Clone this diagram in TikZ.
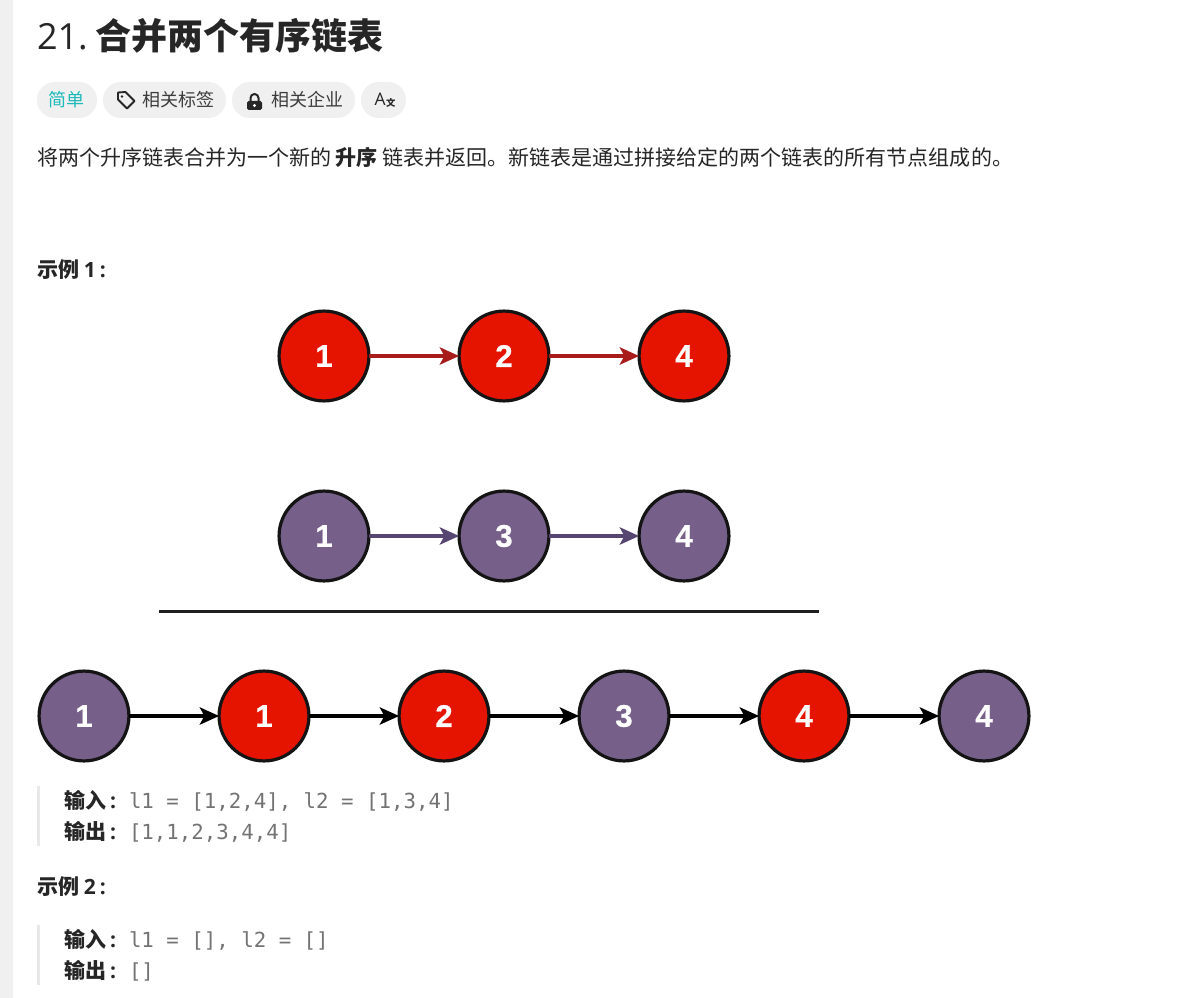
\documentclass[tikz,border=0pt]{standalone}
\usepackage{fontspec}
\setmainfont{Noto Sans CJK SC}
\newfontfamily\lat{Open Sans}
\newfontfamily\numf{Liberation Sans}[BoldFeatures={FakeBold=0.6}]
\newfontfamily\code{DejaVu Sans Mono}
\usetikzlibrary{arrows.meta}
\definecolor{ink}{HTML}{262626}
\definecolor{pill}{HTML}{F0F0F0}
\definecolor{stripe}{HTML}{F0F0F0}
\definecolor{bar}{HTML}{E8E8E8}
\definecolor{teal}{HTML}{1CBABA}
\definecolor{tagtext}{HTML}{3C3C3C}
\definecolor{grey}{HTML}{737373}
\definecolor{redfill}{HTML}{E51400}
\definecolor{purplefill}{HTML}{76608A}
\definecolor{redline}{HTML}{A81C1C}
\definecolor{purpleline}{HTML}{574672}
\tikzset{
  x=0.75pt,y=-0.75pt,
  txt/.style={anchor=base west,inner sep=0pt,outer sep=0pt,text=ink},
  ball/.style={circle,minimum size=67.4pt,inner sep=0pt,outer sep=0pt,draw=black!92,line width=2.4pt,text=white,font=\numf\bfseries\fontsize{23.5}{23.5}\selectfont},
  redball/.style={ball,fill=redfill},
  purpleball/.style={ball,fill=purplefill},
  link/.style={line width=2.3pt,-{Stealth[length=14.5pt,width=13pt,inset=3.5pt]}},
  sepline/.style={line width=2.25pt,draw=black!88},
  pillbox/.style={fill=pill,rounded corners=13.4pt},
  tagsize/.style={font=\fontsize{13.5}{13.5}\selectfont},
  bodysize/.style={font=\fontsize{15.76}{15.76}\selectfont},
  codesize/.style={font=\code\fontsize{15.55}{15.55}\selectfont,text=grey},
}
\newcommand{\clon}{\kern3pt{\lat\bfseries :}}
\begin{document}
\begin{tikzpicture}
\useasboundingbox (0,0) rectangle (1187,998);
\fill[white] (0,0) rectangle (1187,998);
\fill[stripe] (0,0) rectangle (13,998);
% title
\node[txt,font=\fontsize{27}{27}\selectfont] (title) at (37,50) {{\lat 21.}\kern6pt\bfseries 合并两个有序链表};
% pills
\fill[pillbox] (37,82) rectangle (97,118);
\fill[pillbox] (103,82) rectangle (226,118);
\fill[pillbox] (232,82) rectangle (355,118);
\fill[pillbox] (361,82) rectangle (406,118);
\node[txt,tagsize,text=teal] (easy) at (48,107) {简单};
\node[txt,tagsize,text=tagtext] (tags) at (142,107) {相关标签};
\node[txt,tagsize,text=tagtext] (corp) at (271,107) {相关企业};
% tag icon
\draw[ink,line width=1.4pt,line join=round] (118,92.5) -- (125.5,92) -- (134.5,101) -- (127,108.5) -- (118,99.5) -- cycle;
\fill[ink] (122,96.5) circle (1.3);
% lock icon
\fill[ink,rounded corners=1.2pt] (247,101) rectangle (262,110);
\draw[ink,line width=1.5pt] (250.5,102) -- (250.5,98) arc[start angle=180,end angle=360,radius=4] -- (258.5,102);
\fill[white] (254.5,105.5) circle (1.7);
% translate icon
\node[txt,font=\lat\fontsize{13}{13}\selectfont,text=ink] (alpha) at (374.5,106) {A};
\node[txt,font=\bfseries\fontsize{7}{7}\selectfont,text=ink] (wen) at (386,107) {文};
% description
\node[txt,bodysize] (desc) at (37,166) {将两个升序链表合并为一个新的 {\bfseries 升序} 链表并返回。新链表是通过拼接给定的两个链表的所有节点组成的。};
\node[txt,bodysize] (ex1) at (37,277) {\bfseries 示例 {\lat 1}\clon};
% list 1
\node[redball] (a1) at (324,356) {1};
\node[redball] (a2) at (504,356) {2};
\node[redball] (a3) at (684,356) {4};
\draw[link,draw=redline] (a1) -- (a2);
\draw[link,draw=redline] (a2) -- (a3);
% list 2
\node[purpleball] (b1) at (324,536) {1};
\node[purpleball] (b2) at (504,536) {3};
\node[purpleball] (b3) at (684,536) {4};
\draw[link,draw=purpleline] (b1) -- (b2);
\draw[link,draw=purpleline] (b2) -- (b3);
% separator
\coordinate (s1) at (159,611);
\coordinate (s2) at (819,611);
\draw[sepline] (s1) -- (s2);
% merged
\node[purpleball] (c1) at (84,716) {1};
\node[redball] (c2) at (264,716) {1};
\node[redball] (c3) at (444,716) {2};
\node[purpleball] (c4) at (624,716) {3};
\node[redball] (c5) at (804,716) {4};
\node[purpleball] (c6) at (984,716) {4};
\foreach \p/\q in {c1/c2,c2/c3,c3/c4,c4/c5,c5/c6}{\draw[link,draw=black] (\p) -- (\q);}
% example 1 block
\fill[bar] (37,786) rectangle (40,846);
\node[txt,bodysize] (in1) at (64,808) {\bfseries 输入\clon};
\node[txt,codesize] (in1v) at (129,808) {l1 = [1,2,4], l2 = [1,3,4]};
\node[txt,bodysize] (out1) at (64,839) {\bfseries 输出\clon};
\node[txt,codesize] (out1v) at (129,839) {[1,1,2,3,4,4]};
% example 2
\node[txt,bodysize] (ex2) at (37,894) {\bfseries 示例 {\lat 2}\clon};
\fill[bar] (37,925) rectangle (40,985);
\node[txt,bodysize] (in2) at (64,947) {\bfseries 输入\clon};
\node[txt,codesize] (in2v) at (129,947) {l1 = [], l2 = []};
\node[txt,bodysize] (out2) at (64,978) {\bfseries 输出\clon};
\node[txt,codesize] (out2v) at (129,978) {[]};
\end{tikzpicture}
\end{document}
